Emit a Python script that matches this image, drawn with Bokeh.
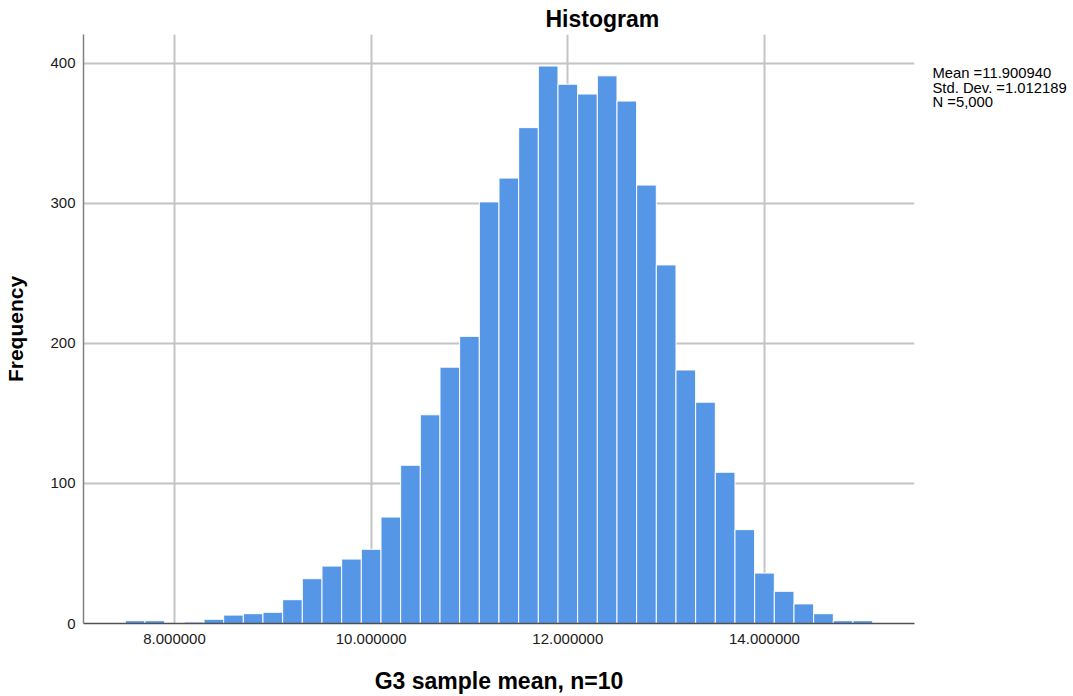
from bokeh.plotting import figure
from bokeh.models import Range1d, FixedTicker, PrintfTickFormatter, LinearAxis
from bokeh.embed import file_html
from bokeh.resources import INLINE

# ---- data ----
bin_centers = [7.6, 7.8, 8.0, 8.2, 8.4, 8.6, 8.8, 9.0, 9.2, 9.4,
               9.6, 9.8, 10.0, 10.2, 10.4, 10.6, 10.8, 11.0, 11.2, 11.4,
               11.6, 11.8, 12.0, 12.2, 12.4, 12.6, 12.8, 13.0, 13.2, 13.4,
               13.6, 13.8, 14.0, 14.2, 14.4, 14.6, 14.8, 15.0]
frequencies = [2, 2, 0, 1, 3, 6, 7, 8, 17, 32,
               41, 46, 53, 76, 113, 149, 183, 205, 301, 318,
               354, 398, 385, 378, 391, 373, 313, 256, 181, 158,
               108, 67, 36, 23, 14, 7, 2, 2]
bin_width = 0.2
x_ticks = [8, 10, 12, 14]
y_ticks = [0, 100, 200, 300, 400]
stats_lines = ["Mean =11.900940", "Std. Dev. =1.012189", "N =5,000"]
stats_rows = [393.0, 382.5, 372.0]   # vertical slots of the statistics text
title_text = "Histogram"
x_label = "G3 sample mean, n=10"
y_label = "Frequency"

FONT = "Liberation Sans"
BAR = "#5596e6"
GRID = "#c4c4c4"

p = figure(width=1073, height=696, output_backend="svg", toolbar_location=None,
           title=title_text,
           x_range=Range1d(7.0746, 15.5256), y_range=Range1d(0, 420.5),
           min_border_left=83, min_border_right=159, min_border_top=33,
           min_border_bottom=73, background_fill_color="white",
           border_fill_color="white")
p.outline_line_color = None

p.title.text_font = FONT
p.title.text_font_size = "23px"
p.title.text_font_style = "bold"
p.title.text_color = "black"
p.title.align = "left"
p.title.offset = 462
p.title.standoff = 6

p.vbar(x=bin_centers, top=frequencies, width=bin_width, bottom=0,
       fill_color=BAR, line_color="white", line_width=1)

# axes
xa = p.xaxis[0]
ya = p.yaxis[0]
xa.ticker = FixedTicker(ticks=x_ticks)
ya.ticker = FixedTicker(ticks=y_ticks)
xa.formatter = PrintfTickFormatter(format="%.6f")
for ax in (xa, ya):
    ax.major_tick_in = 0
    ax.major_tick_out = 0
    ax.minor_tick_line_color = None
    ax.major_label_text_font = FONT
    ax.major_label_text_font_size = "15px"
    ax.major_label_text_color = "#1a1a1a"
    ax.axis_label_text_font = FONT
    ax.axis_label_text_font_style = "bold"
    ax.axis_label_text_color = "black"
xa.major_label_standoff = 10
ya.major_label_standoff = 8
xa.axis_line_color = "#505050"
xa.axis_line_width = 1.5
ya.axis_line_color = "#808080"
ya.axis_line_width = 1.5
xa.axis_label = x_label
xa.axis_label_text_font_size = "23px"
xa.axis_label_standoff = 21
ya.axis_label = y_label
ya.axis_label_text_font_size = "21px"
ya.axis_label_standoff = 20

p.xgrid.grid_line_color = GRID
p.xgrid.grid_line_width = 2
p.ygrid.grid_line_color = GRID
p.ygrid.grid_line_width = 2

# statistics box on the right side, drawn as the labels of a bare axis
stats_axis = LinearAxis(ticker=FixedTicker(ticks=stats_rows),
                        major_label_overrides={v: t for v, t in zip(stats_rows, stats_lines)},
                        axis_line_color=None, major_tick_line_color=None,
                        minor_tick_line_color=None, major_tick_in=0, major_tick_out=0,
                        major_label_standoff=18,
                        major_label_text_font=FONT,
                        major_label_text_font_size="14.8px",
                        major_label_text_color="black")
p.add_layout(stats_axis, "right")

open("out.html", "w").write(file_html(p, INLINE))
